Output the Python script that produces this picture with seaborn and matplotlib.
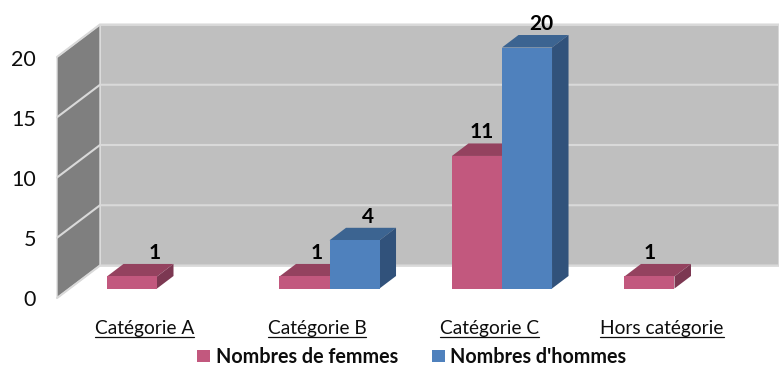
import matplotlib
matplotlib.use("Agg")
import matplotlib.pyplot as plt
from matplotlib.patches import Polygon, Patch
import pandas as pd
import seaborn as sns

categories = ["Catégorie A", "Catégorie B", "Catégorie C", "Hors catégorie"]
femmes = [1, 1, 11, 1]
hommes = [None, 4, 20, None]
series_names = ["Nombres de femmes", "Nombres d'hommes"]
y_ticks = [0, 5, 10, 15, 20]

# Pixel scale of the pseudo-3D scene
W, H = 779, 367
STEP_X = 172.5      # pixels per category
UNIT_Y = 12.05      # pixels per counted person
ORIGIN_X = 157.0    # pixel column of the first category
ORIGIN_Y = 288.5    # pixel row of the bars' base line
BAR_DEPTH = (16.5 / STEP_X, 12.5 / UNIT_Y)
WALL_DEPTH = (43.0 / STEP_X, 32.5 / UNIT_Y)
WALL_X = (57.0 - ORIGIN_X) / STEP_X
WALL_DROP = 9.5 / UNIT_Y
RIGHT = (W - ORIGIN_X) / STEP_X

FACES = {
    series_names[0]: ("#C2587E", "#94425F", "#7C3852"),
    series_names[1]: ("#4F81BD", "#3C6491", "#31527B"),
}
# Horizontal shift of the value labels from the bar centre, in pixels
label_shift = {
    series_names[0]: [23, 12, 5, 0],
    series_names[1]: [0, 13, 14, 0],
}

sns.set_theme(style="white")
plt.rcParams["font.family"] = ["Lato", "DejaVu Sans"]
TEXT = "#0d0d0d"

df = pd.DataFrame({
    "categorie": categories * 2,
    "serie": [series_names[0]] * 4 + [series_names[1]] * 4,
    "valeur": femmes + hommes,
})
df["valeur"] = df["valeur"].astype(float)

fig = plt.figure(figsize=(W / 100, H / 100), dpi=100)
ax = fig.add_axes([0, 0, 1, 1])

sns.barplot(
    data=df, x="categorie", y="valeur", hue="serie", order=categories,
    hue_order=series_names, palette=[FACES[s][0] for s in series_names],
    width=0.58, gap=0, dodge=True, legend=False, ax=ax, saturation=1,
    linewidth=0, edgecolor="none",
)
ax.set_xlim(-ORIGIN_X / STEP_X, RIGHT)
ax.set_ylim((ORIGIN_Y - H) / UNIT_Y, ORIGIN_Y / UNIT_Y)
ax.axis("off")

# Back wall, side wall and gridlines
dx, dy = WALL_DEPTH
top, base = max(y_ticks), min(y_ticks) - WALL_DROP
ax.add_patch(Polygon(
    [(WALL_X + dx, base + dy), (RIGHT, base + dy), (RIGHT, top + base + dy), (WALL_X + dx, top + base + dy)],
    closed=True, fc="#BFBFBF", ec="#DDDDDD", lw=1.2, zorder=1))
ax.add_patch(Polygon(
    [(WALL_X, base), (WALL_X + dx, base + dy), (WALL_X + dx, top + base + dy), (WALL_X, top + base)],
    closed=True, fc="#7F7F7F", ec="#DDDDDD", lw=1.0, zorder=1))
for tick in y_ticks:
    level = tick + base
    ax.plot([WALL_X, WALL_X + dx, RIGHT], [level, level + dy, level + dy],
            color="#D9D9D9", lw=1.5, zorder=1.2, solid_joinstyle="miter")
    ax.text(WALL_X - 21 / STEP_X, level - 2.5 / UNIT_Y, str(tick), ha="right", va="center",
            fontsize=15.5, color=TEXT)

# Extrude every bar and write its value
bx, by = BAR_DEPTH
for order, (name, container) in enumerate(zip(series_names, ax.containers)):
    front, upper, side = FACES[name]
    layer = 2 + 2 * order
    for bar in container:
        h = bar.get_height()
        if not h == h:
            continue
        x0, x1 = bar.get_x(), bar.get_x() + bar.get_width()
        bar.set_zorder(layer + 1)
        ax.add_patch(Polygon([(x0, h), (x1, h), (x1 + bx, h + by), (x0 + bx, h + by)],
                             closed=True, fc=upper, ec="none", zorder=layer))
        ax.add_patch(Polygon([(x1, 0), (x1 + bx, by), (x1 + bx, h + by), (x1, h)],
                             closed=True, fc=side, ec="none", zorder=layer))
        cat = round((x0 + x1) / 2 + (0.145 if order == 0 else -0.145))
        shift = label_shift[name][cat]
        ax.annotate(f"{h:.0f}", xy=((x0 + x1) / 2, h + by), xytext=(shift * 0.72, 11 * 0.72),
                    textcoords="offset points", ha="center", va="center",
                    fontsize=15, fontweight="bold", color="black", zorder=10)

# Underlined category names
renderer = fig.canvas.get_renderer()
inv = ax.transData.inverted()
for i, cat in enumerate(categories):
    label = ax.text(i - 12.5 / STEP_X, (ORIGIN_Y - 328.5) / UNIT_Y, cat, ha="center",
                    va="center", fontsize=13.8, color=TEXT)
    box = label.get_window_extent(renderer)
    (xa, ya), (xb, _) = inv.transform([(box.x0, box.y0), (box.x1, box.y0)])
    ax.plot([xa, xb], [(ORIGIN_Y - 336.5) / UNIT_Y] * 2, color=TEXT, lw=0.9, zorder=10)

handles = [Patch(fc=FACES[s][0], ec="none", label=s) for s in series_names]
ax.legend(handles=handles, loc="center", bbox_to_anchor=(412 / W, 1 - 357 / H), ncol=2,
          frameon=False, handlelength=0.62, handleheight=0.62, handletextpad=0.3,
          columnspacing=1.75, prop={"weight": "bold", "size": 14.2}, labelcolor=TEXT,
          borderpad=0, borderaxespad=0)

fig.savefig("out.png", dpi=100, facecolor="white")
